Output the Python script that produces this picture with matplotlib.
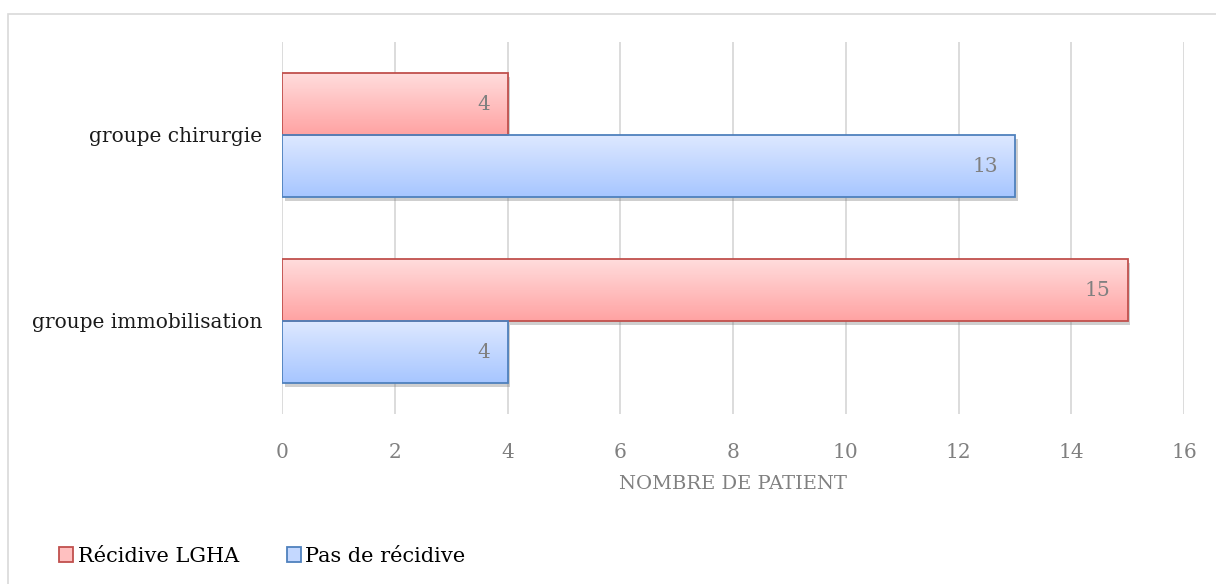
import matplotlib

matplotlib.use("Agg")
import matplotlib.pyplot as plt
import matplotlib.patheffects as pe
import numpy as np
from matplotlib.colors import LinearSegmentedColormap
from matplotlib.patches import Rectangle

# Données
categories = ["groupe immobilisation", "groupe chirurgie"]
recidive = [15, 4]
pas_recidive = [4, 13]
series_labels = ["Récidive LGHA", "Pas de récidive"]
xticks = [0, 2, 4, 6, 8, 10, 12, 14, 16]

plt.rcParams["font.family"] = ["DejaVu Serif"]

RED_EDGE = "#C0504D"
BLUE_EDGE = "#4F81BD"
red_grad = LinearSegmentedColormap.from_list("r", ["#FFA3A3", "#FFDCDC"])
blue_grad = LinearSegmentedColormap.from_list("b", ["#A7C6FF", "#DDE8FF"])

fig = plt.figure(figsize=(12.16, 5.84), dpi=100)
ax = fig.add_axes([282 / 1216, 1 - 414 / 584, (1184 - 282) / 1216, 372 / 584])

# cadre du graphique
fig.patches.append(Rectangle((8 / 1216, -0.2), 1.2, 1.2 - 14 / 584,
                             transform=fig.transFigure, fill=False,
                             edgecolor="#D9D9D9", lw=1.2, zorder=0))

h = 1 / 3
y = np.arange(len(categories))
grad = np.linspace(0, 1, 64).reshape(-1, 1)


def draw_bars(values, offset, cmap, edge):
    bars = ax.barh(y + offset, values, height=h, color="white", edgecolor="none", zorder=2,
                   path_effects=[pe.SimplePatchShadow(offset=(2, -3), alpha=0.35, shadow_rgbFace="#777777"),
                                 pe.Normal()])
    for b, v in zip(bars, values):
        x0, y0 = b.get_x(), b.get_y()
        ax.imshow(grad, cmap=cmap, aspect="auto", origin="lower",
                  extent=(x0, x0 + b.get_width(), y0, y0 + b.get_height()), zorder=3)
        ax.add_patch(Rectangle((x0, y0), b.get_width(), b.get_height(), fill=False,
                               edgecolor=edge, lw=1.3, zorder=4))
        ax.text(v - 0.3, y0 + b.get_height() / 2, str(v), ha="right", va="center",
                color="#808080", fontsize=14.5, zorder=5)


draw_bars(recidive, h / 2, red_grad, RED_EDGE)
draw_bars(pas_recidive, -h / 2, blue_grad, BLUE_EDGE)

ax.set_xlim(0, 16)
ax.set_ylim(-0.5, 1.5)
ax.set_xticks(xticks)
ax.set_yticks(y)
ax.set_yticklabels(categories, fontsize=14.5, color="#1a1a1a")
ax.tick_params(axis="x", colors="#808080", labelsize=14.5, length=0, pad=21)
ax.tick_params(axis="y", length=0, pad=14)
ax.grid(axis="x", color="#D9D9D9", lw=1.3, zorder=0)
ax.set_axisbelow(True)
for s in ax.spines.values():
    s.set_visible(False)
ax.set_xlabel("NOMBRE DE PATIENT", color="#808080", fontsize=14, labelpad=9)

handles = [Rectangle((0, 0), 1, 1, facecolor="#FFC0C0", edgecolor=RED_EDGE, lw=1.3),
           Rectangle((0, 0), 1, 1, facecolor="#C4D8FF", edgecolor=BLUE_EDGE, lw=1.3)]
fig.legend(handles, series_labels, loc="center left", bbox_to_anchor=(40 / 1216, 1 - 556 / 584),
           ncol=2, frameon=False, fontsize=15, handlelength=0.7, handleheight=0.7,
           handletextpad=0.2, columnspacing=2.3)

fig.savefig("out.png", dpi=100, facecolor="white")
